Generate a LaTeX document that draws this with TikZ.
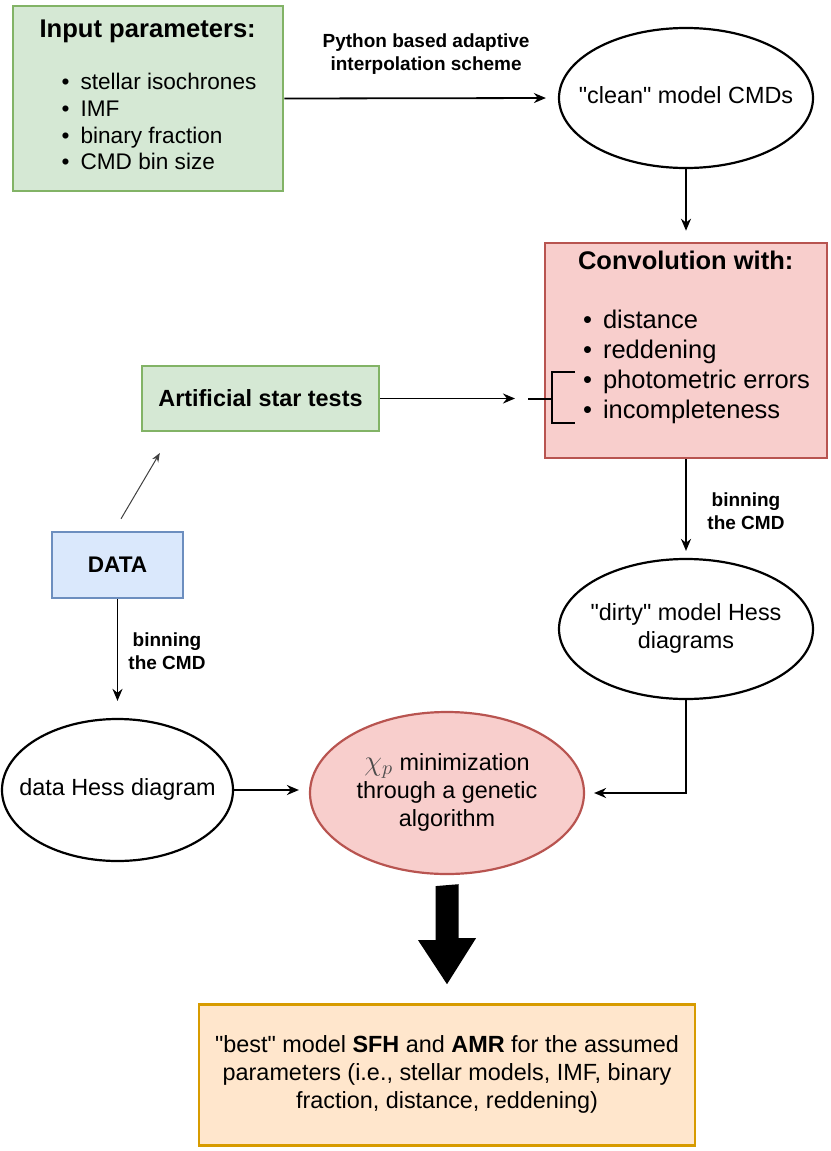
\documentclass[tikz,border=0pt]{standalone}
\usepackage{fontspec}
\setmainfont{Liberation Sans}[Ligatures=TeXOff]
\usetikzlibrary{arrows.meta,shapes.geometric,calc}
\definecolor{fillgreen}{HTML}{D5E8D4}
\definecolor{linegreen}{HTML}{82B366}
\definecolor{fillred}{HTML}{F8CECC}
\definecolor{linered}{HTML}{B85450}
\definecolor{fillblue}{HTML}{DAE8FC}
\definecolor{lineblue}{HTML}{6C8EBF}
\definecolor{fillorange}{HTML}{FFE6CC}
\definecolor{lineorange}{HTML}{D79B00}
\newcommand{\bul}[1][10pt]{\makebox[#1][l]{\textbullet}}
\newcommand{\elltext}[1]{\makebox[0pt]{\begin{tabular}{@{}c@{}}#1\end{tabular}}}

\begin{document}
\begin{tikzpicture}[x=0.5pt,y=-0.5pt,
  box/.style={draw,line width=1.3pt,inner sep=0pt},
  ell/.style={draw,ellipse,line width=1.1pt,inner sep=0pt,font=\fontsize{11.7}{14}\selectfont},
  lbl/.style={font=\fontsize{9.5}{11.5}\selectfont\bfseries,align=center},
  arr/.style={-{Stealth[length=6pt,width=5pt]},line width=0.9pt},
  thinarr/.style={-{Stealth[length=4.5pt,width=3.5pt]},line width=0.5pt,black!75}
]
  \useasboundingbox (0,0) rectangle (830,1151);

  % boxes and ellipses
  \node[box,fill=fillgreen,draw=linegreen,minimum width=135pt,minimum height=92.5pt] (inp) at (148,98.5)
    {\fontsize{11.3}{13.35}\selectfont\begin{tabular}{@{}l@{}}
      {\fontsize{12.8}{15}\selectfont\bfseries Input parameters:}\\[12.5pt]
      \hspace*{11pt}\bul[9.5pt]stellar isochrones\\
      \hspace*{11pt}\bul[9.5pt]IMF\\
      \hspace*{11pt}\bul[9.5pt]binary fraction\\
      \hspace*{11pt}\bul[9.5pt]CMD bin size
    \end{tabular}};
  \node[ell,minimum width=127pt,minimum height=70pt] (clean) at (686,98) {\elltext{"clean" model CMDs}};
  \node[box,fill=fillred,draw=linered,minimum width=141pt,minimum height=107.5pt] (conv) at (686,350.5)
    {\hspace*{8pt}\fontsize{12.75}{15}\selectfont\begin{tabular}{@{}l@{}}
      {\bfseries Convolution with:}\\[14.5pt]
      \hspace*{2.5pt}\bul distance\\
      \hspace*{2.5pt}\bul reddening\\
      \hspace*{2.5pt}\bul photometric errors\\
      \hspace*{2.5pt}\bul incompleteness\\[13pt]
    \end{tabular}};
  \node[box,fill=fillgreen,draw=linegreen,minimum width=118.5pt,minimum height=32.5pt,
    font=\fontsize{11.7}{14}\selectfont\bfseries] (art) at (260.5,398.5) {Artificial star tests};
  \node[box,fill=fillblue,draw=lineblue,minimum width=65.5pt,minimum height=33pt,
    font=\fontsize{11.3}{14}\selectfont\bfseries] (data) at (117.5,565) {DATA};
  \node[ell,minimum width=127pt,minimum height=70pt] (dirty) at (686,629) {\elltext{"dirty" model Hess\\diagrams}};
  \node[ell,minimum width=115.5pt,minimum height=71pt] (hess) at (117.5,790) {\elltext{data Hess diagram}};
  \node[ell,fill=fillred,draw=linered,minimum width=137pt,minimum height=81pt] (chi) at (447,793)
    {\elltext{{\fontsize{14}{14}\selectfont\color{black!70}$\chi_p$} minimization\\through a genetic\\algorithm}};
  \node[box,fill=fillorange,draw=lineorange,minimum width=248pt,minimum height=70.5pt,
    font=\fontsize{11.7}{14}\selectfont] (best) at (447,1075)
    {\begin{tabular}{@{}c@{}}"best" model \textbf{SFH} and \textbf{AMR} for the assumed\\
      parameters (i.e., stellar models, IMF, binary\\fraction, distance, reddening)\end{tabular}};

  % connectors
  \draw[arr,shorten >=6pt] (inp.east) -- (clean.west)
    node[lbl,midway,xshift=2.5pt,yshift=22pt] (py) {Python based adaptive\\interpolation scheme};
  \draw[arr,shorten >=5.5pt] (clean.south) -- (conv.north);
  \coordinate (brk) at (528,398.5);
  \draw[arr,shorten >=6.5pt] (art.east) -- (brk);
  \draw[line width=1pt] (brk) -- (552,398.5) (575,372) -- (552,372) -- (552,423) -- (575,423);
  \draw[thinarr,shorten <=6.9pt,shorten >=12pt] ($(data.north)+(-3.5,0)$) -- ($(art.south)+(-88.5,0)$);
  \draw[arr,shorten >=8.5pt] (data.south) -- (hess.north)
    node[lbl,midway,xshift=24.75pt,yshift=3.5pt] (bin1) {binning\\the CMD};
  \draw[arr,shorten >=5pt] (hess.east) -- (hess.east -| chi.west);
  \draw[arr,shorten >=3.5pt] (conv.south) -- (dirty.north)
    node[lbl,midway,xshift=30pt,yshift=-1.5pt] (bin2) {binning\\the CMD};
  \draw[arr,shorten >=4.5pt] (dirty.south) |- (chi.east);

  % big arrow to the result
  \coordinate (bt) at ($(chi.south)+(0,11)$);
  \coordinate (bb) at ($(best.north)+(0,-19)$);
  \fill (bt) ++(-11.5,0) -- ++(0,54) -- ++(-17.5,0) -- (bb) -- ++(29,-46) -- ++(-17.5,0) -- ++(0,-54) -- cycle;
\end{tikzpicture}
\end{document}
